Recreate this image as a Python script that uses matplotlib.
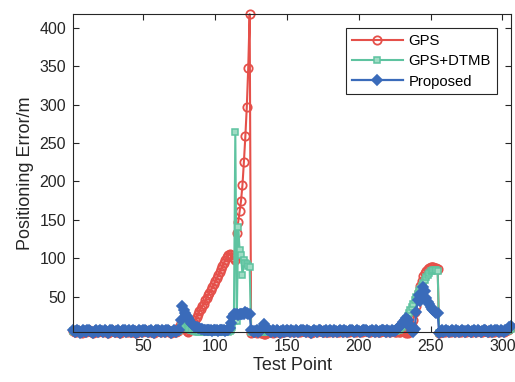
import numpy as np
import matplotlib
matplotlib.use("Agg")
import matplotlib.pyplot as plt

plt.rcParams['font.family'] = ['Liberation Sans', 'DejaVu Sans']

# ---------------- data ----------------
# Proposed
b_1_20 = [6,4,5,7,5,3,4,6,5,4,6,7,5,4,3,5,6,4,5,7]
b_21_40 = [5,4,6,5,3,4,6,7,5,4,5,6,4,3,5,7,6,4,5,6]
b_41_60 = [4,5,7,5,3,4,6,5,4,6,7,5,4,5,6,4,3,5,6,7]
b_61_75 = [5,4,6,5,4,6,7,5,3,4,6,5,4,6,7]
b_76_90 = [20,38,33,29,25,22,19,16,14,12,11,10,9,9,8]
b_91_110 = [8,7,7,6,6,7,6,5,6,7,6,5,6,6,7,6,5,6,7,9]
b_111_124 = [16,24,27,28,27,26,27,28,27,28,30,29,27,28]
b_125_140 = [7,5,4,5,6,4,5,7,10,15,12,8,6,5,4,6]
b_141_225 = [5,4,6,5,3,5,6,4,5,7,5,4,6,5,4,6,5,4,5,6,
             7,5,4,6,5,4,3,5,6,5,4,6,7,5,4,5,6,4,5,6,
             5,4,6,5,4,5,6,5,4,6,5,4,5,7,6,5,4,5,6,5,
             4,5,6,7,6,5,4,5,6,5,4,6,5,4,5,6,7,5,4,6,
             5,4,6,5,5]
b_226_255 = [6,8,10,12,14,17,20,22,20,15,10,5,4,8,30,45,52,44,55,63,57,48,43,40,37,34,32,30,29,29]
b_256_306 = [3,5,6,4,5,6,5,4,5,6,5,4,6,5,4,5,6,5,4,5,
             6,5,4,5,6,5,4,6,5,4,5,6,7,5,4,5,6,4,5,7,
             6,5,4,6,5,4,6,7,8,10,12]

# GPS
r_1_72 = [5,4,4,6,5,4,3,5,5,4,5,6,5,4,3,4,5,4,5,6,
          5,4,5,5,3,4,5,6,5,4,4,5,4,3,4,6,5,4,4,5,
          4,4,6,5,3,4,5,5,4,5,6,5,4,4,5,4,3,4,5,6,
          5,4,5,5,4,5,6,5,3,4,5,4]
r_73_114 = [4,5,10,16,20,14,8,5,4,6,9,13,16,20,24,27,31,34,38,41,45,48,52,55,59,
            62,66,70,74,78,82,86,90,94,98,101,104,105,104,102,100,98]
r_115_124 = [133,147,161,175,196,226,259,297,348,418]
r_125_140 = [3,4,5,4,3,5,4,3,2,1,1,3,4,5,4,3]
r_141_235 = [4,4,5,5,3,4,5,4,5,6,5,4,5,5,4,5,5,4,4,5,
             6,5,4,5,5,4,3,4,5,5,4,5,6,5,4,4,5,4,4,5,
             5,4,5,5,4,4,5,5,4,5,5,4,4,6,5,5,4,4,5,5,
             4,4,5,6,5,5,4,4,5,5,4,5,5,4,4,5,6,5,4,5,
             5,4,5,5,4,4,5,4,4,5,5,4,3,3,4]
r_236_255 = [5,12,20,30,38,47,56,64,71,77,81,84,86,87,88,88,88,87,87,86]
r_256_306 = [2,4,5,4,4,5,5,4,4,5,5,4,5,5,4,4,5,5,4,4,
             5,5,4,4,5,5,4,5,5,4,4,5,6,5,4,4,5,4,4,6,
             5,5,4,5,5,4,5,6,7,8,10]

# GPS+DTMB
g_1_74 = [5,4,4,5,5,4,4,5,5,4,5,5,5,4,4,4,5,4,5,5,
          5,4,5,5,4,4,5,5,5,4,4,5,4,4,4,5,5,4,4,5,
          4,4,5,5,4,4,5,5,4,5,5,5,4,4,5,4,4,4,5,5,
          5,4,5,5,4,5,5,5,4,4,5,4,4,5]
g_75_90 = [6,10,12,12,11,10,9,8,7,6,5,5,4,5,4,5]
g_91_111 = [5,4,5,5,4,4,5,5,4,5,5,4,4,5,5,4,5,5,4,5,7]
g_112_124 = [10,18,264,18,141,111,104,78,98,94,92,90,89]
g_125_227 = [4,4,5,5,4,4,5,4,4,4,4,5,5,4,5,5,4,4,5,5,
             5,4,5,5,4,4,5,5,4,4,5,5,5,4,4,5,4,4,5,5,
             4,4,5,5,4,4,5,5,4,5,5,4,4,5,5,5,4,4,5,5,
             4,4,5,5,5,5,4,4,5,5,4,5,5,4,4,5,5,5,4,5,
             5,4,5,5,4,4,5,4,4,5,5,4,4,5,5,4,4,5,5,5,
             5,5,6]
g_228_255 = [6,8,11,14,17,21,25,29,33,37,41,45,49,53,57,60,64,68,72,75,78,81,83,84,85,85,85,84]
g_256_306 = [3,4,5,4,4,5,5,4,4,5,5,4,5,5,4,4,5,5,4,4,
             5,5,4,4,5,5,4,5,5,4,4,5,5,5,4,4,5,4,4,5,
             5,5,4,5,5,4,5,5,6,7,8]

proposed = np.array(b_1_20 + b_21_40 + b_41_60 + b_61_75 + b_76_90 + b_91_110 +
                    b_111_124 + b_125_140 + b_141_225 + b_226_255 + b_256_306, dtype=float)
gps = np.array(r_1_72 + r_73_114 + r_115_124 + r_125_140 + r_141_235 + r_236_255 + r_256_306, dtype=float)
gps_dtmb = np.array(g_1_74 + g_75_90 + g_91_111 + g_112_124 + g_125_227 + g_228_255 + g_256_306, dtype=float)
test_point = np.arange(1, len(proposed) + 1)

series_names = ["GPS", "GPS+DTMB", "Proposed"]
x_ticks = [50, 100, 150, 200, 250, 300]
y_ticks = [50, 100, 150, 200, 250, 300, 350, 400]

# ---------------- plot ----------------
red = '#E5504A'
green = '#5EC3A0'
blue = '#3A6BBA'
txt = '#262626'

fig = plt.figure(figsize=(5.15, 3.82), dpi=100)
ax = fig.add_axes([0.142, 0.131, 0.850, 0.832])

ax.plot(test_point, gps, color=red, lw=1.5, marker='o', ms=6, mfc='none',
        mew=1.3, label=series_names[0], clip_on=False, zorder=2)
ax.plot(test_point, gps_dtmb, color=green, lw=1.5, marker='s', ms=4.5,
        mfc='#9FDCC4', mew=1.1, label=series_names[1], clip_on=False, zorder=3)
ax.plot(test_point, proposed, color=blue, lw=1.6, marker='D', ms=5.5,
        mfc=blue, mew=1.2, label=series_names[2], clip_on=False, zorder=4)

ax.set_xlim(1, 306)
ax.set_ylim(4, 418)
ax.set_xticks(x_ticks)
ax.set_yticks(y_ticks)
ax.tick_params(direction='in', top=True, right=True, length=4, width=0.8,
               labelsize=11.5, colors=txt, pad=5)
for s in ax.spines.values():
    s.set_linewidth(0.8)
    s.set_color(txt)
    s.set_zorder(5)

ax.set_xlabel('Test Point', fontsize=13, color=txt, labelpad=2)
ax.set_ylabel('Positioning Error/m', fontsize=13, color=txt, labelpad=4)

leg = ax.legend(loc='upper right', bbox_to_anchor=(0.968, 0.956), borderaxespad=0,
                fancybox=False, framealpha=1, edgecolor=txt, fontsize=10.7,
                handlelength=3.4, handletextpad=0.4, labelspacing=0.42, numpoints=1,
                borderpad=0.4)
leg.get_frame().set_linewidth(0.8)
for t in leg.get_texts():
    t.set_color('black')

fig.savefig('out.png', dpi=100)
